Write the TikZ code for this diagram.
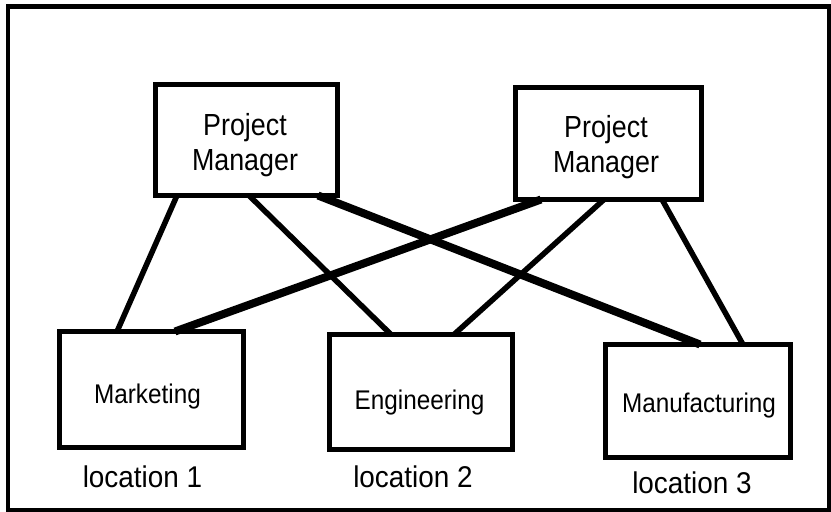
\documentclass[tikz,border=0pt]{standalone}
\usepackage{fontspec}
\setmainfont{Liberation Sans}
\newfontfamily\pmfont[FakeStretch=0.88]{Liberation Sans}
\newfontfamily\unitfont[FakeStretch=0.9]{Liberation Sans}
\newfontfamily\locfont[FakeStretch=0.93]{Liberation Sans}
\begin{document}
\begin{tikzpicture}[x=1pt,y=-1pt,
  box/.style={draw, line width=5.5pt, rectangle, inner sep=0pt, outer sep=0pt},
  link/.style={line width=5.5pt},
  heavy/.style={line width=8pt},
  pmtext/.style={font=\pmfont\fontsize{30.5}{35}\selectfont, align=center, inner sep=0pt, anchor=north},
  unit/.style={font=\unitfont\fontsize{27}{31}\selectfont, inner sep=0pt, anchor=base},
  loc/.style={font=\locfont\fontsize{30}{34}\selectfont, inner sep=0pt, anchor=base}]
\useasboundingbox (0,0) rectangle (831,512);
\draw[line width=4.5pt] (8,6.5) rectangle (829,510);

% boxes (named)
\path[box, minimum width=182pt, minimum height=111pt] node (pm1) at (246.5,140) {};
\path[box, minimum width=186pt, minimum height=112pt] node (pm2) at (608.5,143.5) {};
\path[box, minimum width=184pt, minimum height=116pt] node (mkt) at (151.5,389.5) {};
\path[box, minimum width=183pt, minimum height=115pt] node (eng) at (421,392) {};
\path[box, minimum width=185pt, minimum height=113pt] node (man) at (698,401) {};

% connectors
\draw[link]  ([xshift=21.5pt]pm1.south west) -- ([xshift=57.5pt]mkt.north west);
\draw[link]  ([xshift=93.5pt]pm1.south west) -- ([xshift=61.5pt]eng.north west);
\draw[heavy] ([xshift=162.5pt]pm1.south west) -- ([xshift=94.5pt]man.north west);
\draw[heavy] ([xshift=25.5pt]pm2.south west) -- ([xshift=115.5pt]mkt.north west);
\draw[link]  ([xshift=88.5pt]pm2.south west) -- ([xshift=124.5pt]eng.north west);
\draw[link]  ([xshift=146.5pt]pm2.south west) -- ([xshift=137.5pt]man.north west);

% redraw box borders over the connector ends
\draw[line width=5.5pt] (pm1.south west) rectangle (pm1.north east);
\draw[line width=5.5pt] (pm2.south west) rectangle (pm2.north east);
\draw[line width=5.5pt] (mkt.south west) rectangle (mkt.north east);
\draw[line width=5.5pt] (eng.south west) rectangle (eng.north east);
\draw[line width=5.5pt] (man.south west) rectangle (man.north east);

% texts
\node[pmtext] (pm1t) at (245,113) {Project\\Manager};
\node[pmtext] (pm2t) at (606,115) {Project\\Manager};
\node[unit] (mktt) at (147.5,403) {Marketing};
\node[unit] (engt) at (419.5,409) {Engineering};
\node[unit] (mant) at (699,412) {Manufacturing};
\node[loc] (loc1) at (142.5,487) {location 1};
\node[loc] (loc2) at (413,487) {location 2};
\node[loc] (loc3) at (692,493) {location 3};
\end{tikzpicture}
\end{document}
